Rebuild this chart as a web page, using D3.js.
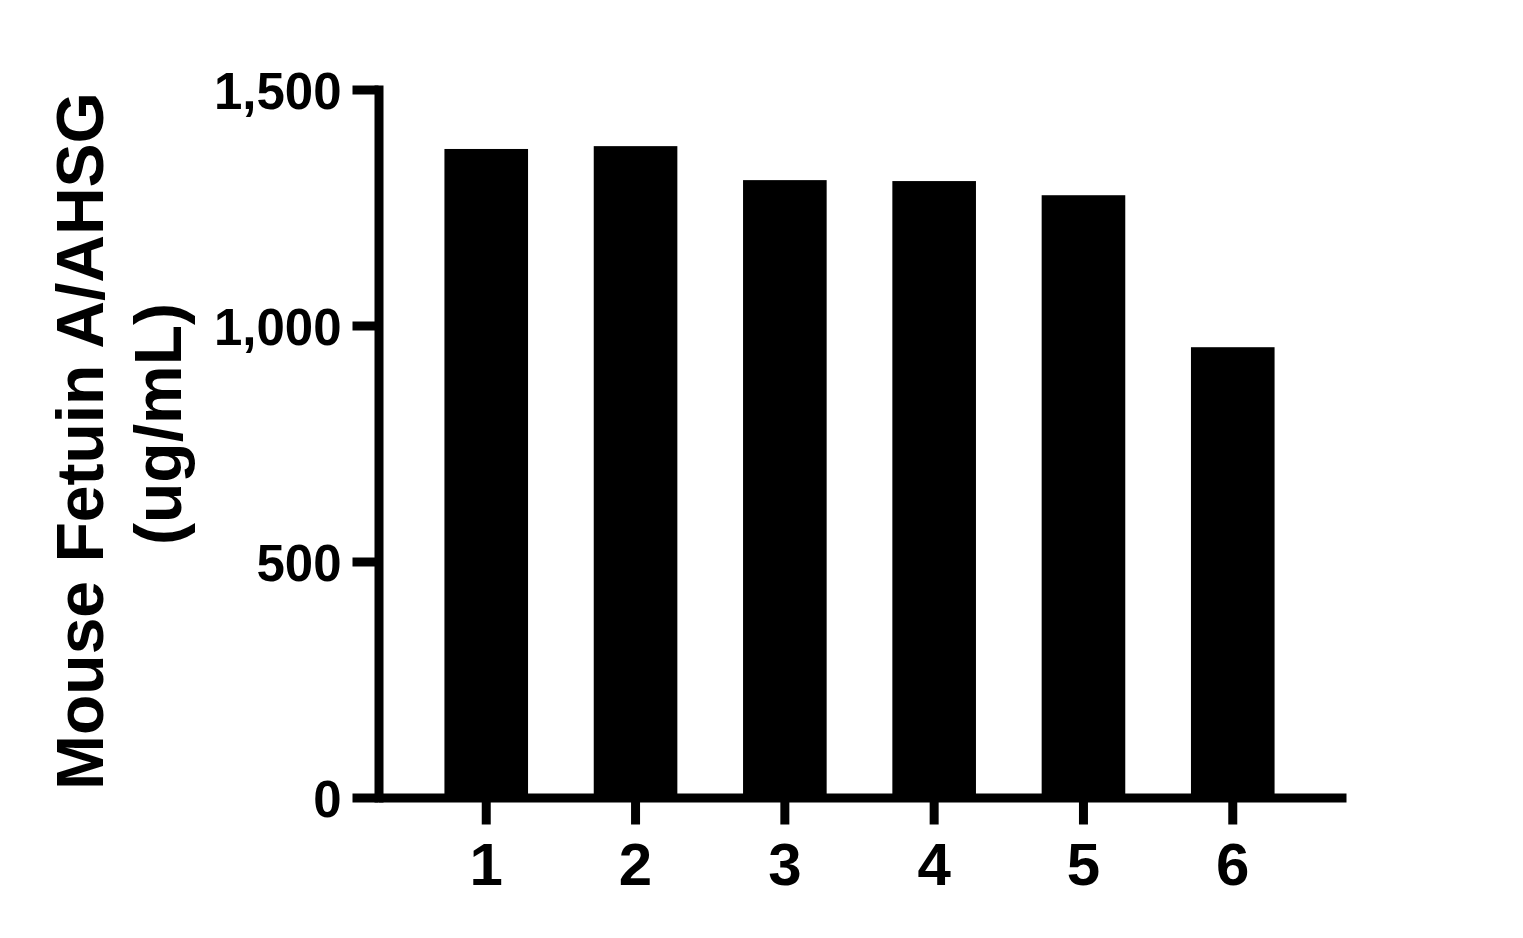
<!DOCTYPE html>
<html>
<head>
<meta charset="utf-8">
<script src="https://cdn.jsdelivr.net/npm/d3@7"></script>
<style>
  body { margin: 0; background: #fff; }
  svg { display: block; font-family: "Liberation Sans", Arial, sans-serif; font-weight: bold; }
</style>
</head>
<body>
<svg id="chart" width="1523" height="938"></svg>
<script>
// data
const groups = ['1', '2', '3', '4', '5', '6'];
const values = [1374, 1380, 1308, 1306, 1276, 954];
const yTicks = [0, 500, 1000, 1500];
const yTitle = ['Mouse Fetuin A/AHSG', '(ug/mL)'];

const svg = d3.select('#chart');

// plot area
const x0 = 378.5, x1 = 1346;
const yBase = 797.5, yTop = 89.5;
const axisWidth = 9;

const x = d3.scaleBand()
    .domain(groups)
    .range([x0, x1])
    .paddingInner(0.44)
    .paddingOuter(0.46)
    .align(0.48);

const y = d3.scaleLinear()
    .domain([0, 1500])
    .range([yBase, yTop]);

// bars
svg.append('g')
    .selectAll('rect')
    .data(values)
    .join('rect')
    .attr('x', (d, i) => x(groups[i]))
    .attr('y', d => y(d))
    .attr('width', x.bandwidth())
    .attr('height', d => yBase - y(d))
    .attr('fill', '#000');

// y axis
const yAxis = svg.append('g')
    .attr('transform', `translate(${x0},0)`)
    .call(d3.axisLeft(y)
        .tickValues(yTicks)
        .tickSize(26)
        .tickSizeOuter(0)
        .tickFormat(d3.format(',')));

yAxis.select('.domain')
    .attr('stroke', '#000')
    .attr('stroke-width', axisWidth)
    .attr('stroke-linecap', 'square');
yAxis.selectAll('.tick line')
    .attr('stroke', '#000')
    .attr('stroke-width', axisWidth);
yAxis.selectAll('.tick text')
    .attr('x', -37)
    .attr('dy', null)
    .attr('y', 19)
    .attr('fill', '#000')
    .style('font-size', '51px')
    .style('font-family', '"Liberation Sans", Arial, sans-serif')
    .style('font-weight', 'bold');

// x axis
const xAxis = svg.append('g')
    .attr('transform', `translate(0,${yBase})`)
    .call(d3.axisBottom(x)
        .tickSize(27)
        .tickSizeOuter(0));

xAxis.select('.domain')
    .attr('stroke', '#000')
    .attr('stroke-width', axisWidth);
xAxis.selectAll('.tick line')
    .attr('stroke', '#000')
    .attr('stroke-width', axisWidth);
xAxis.selectAll('.tick text')
    .attr('y', 87.5)
    .attr('dy', null)
    .attr('fill', '#000')
    .style('font-size', '60px')
    .style('font-family', '"Liberation Sans", Arial, sans-serif')
    .style('font-weight', 'bold');

// y axis title, two lines rotated
const title = svg.append('g')
    .attr('font-size', 66)
    .attr('text-anchor', 'middle')
    .attr('fill', '#000');

title.append('text')
    .attr('transform', 'translate(103,441) rotate(-90)')
    .text(yTitle[0]);
title.append('text')
    .attr('transform', 'translate(181,424) rotate(-90)')
    .text(yTitle[1]);
</script>
</body>
</html>
